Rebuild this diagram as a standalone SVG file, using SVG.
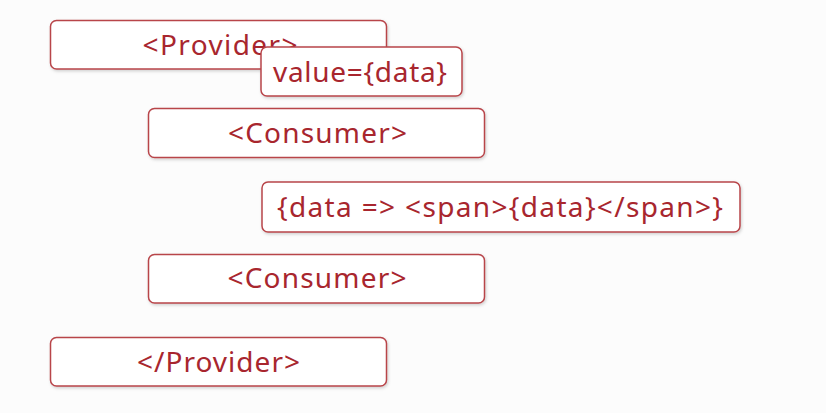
<svg xmlns="http://www.w3.org/2000/svg" width="826" height="413" viewBox="0 0 826 413">
<defs>
<filter id="sh" x="-5%" y="-20%" width="110%" height="140%">
<feDropShadow dx="1" dy="1.5" stdDeviation="1.5" flood-color="#000" flood-opacity="0.18"/>
</filter>
</defs>
<style>
.box{fill:#ffffff;stroke:#b8454a;stroke-width:1.5;filter:url(#sh)}
.t{font-family:"Noto Sans","Open Sans","Liberation Sans",sans-serif;font-size:28px;fill:#a8262e;text-anchor:middle}
</style>
<rect width="826" height="413" fill="#fcfcfc"/>
<g id="provider-open"><rect class="box" x="50.5" y="20.5" width="336" height="48.5" rx="6"/><text class="t" x="220" y="55" textLength="155" lengthAdjust="spacing">&lt;Provider&gt;</text></g>
<g id="value"><rect class="box" x="261" y="47" width="201" height="49" rx="6"/><text class="t" x="360" y="82" textLength="174" lengthAdjust="spacing">value={data}</text></g>
<g id="consumer-1"><rect class="box" x="148.5" y="108.5" width="336" height="49" rx="6"/><text class="t" x="317.5" y="143" textLength="179" lengthAdjust="spacing">&lt;Consumer&gt;</text></g>
<g id="render-fn"><rect class="box" x="262" y="182" width="478" height="50" rx="6"/><text class="t" x="500" y="217" textLength="446" lengthAdjust="spacing">{data =&gt; &lt;span&gt;{data}&lt;/span&gt;}</text></g>
<g id="consumer-2"><rect class="box" x="148.5" y="254.5" width="336" height="48.5" rx="6"/><text class="t" x="317" y="288" textLength="179" lengthAdjust="spacing">&lt;Consumer&gt;</text></g>
<g id="provider-close"><rect class="box" x="50.5" y="337.5" width="336" height="48.5" rx="6"/><text class="t" x="218.5" y="372" textLength="163" lengthAdjust="spacing">&lt;/Provider&gt;</text></g>
<g id="connectors"/>
</svg>
